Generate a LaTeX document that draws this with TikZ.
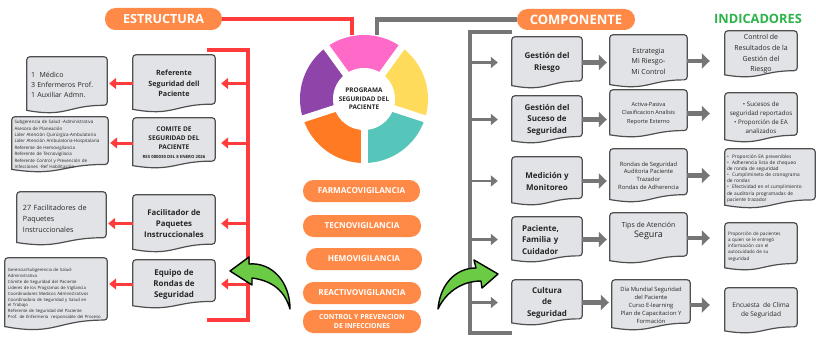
\documentclass[tikz,border=0pt]{standalone}
\usepackage{fontspec}
\setmainfont{Open Sans}
\usetikzlibrary{arrows.meta,calc}
\pgfdeclarelayer{bg}
\pgfsetlayers{bg,main}

\definecolor{redc}{HTML}{FF3B3B}
\definecolor{grayc}{HTML}{767676}
\definecolor{pillor}{HTML}{FF8A47}
\definecolor{docfill}{HTML}{E1E3E6}
\definecolor{docborder}{HTML}{4F4F4F}
\definecolor{txt}{HTML}{262626}
\definecolor{indgreen}{HTML}{2CB34A}
\definecolor{arrowgreen}{HTML}{6CCB45}
\definecolor{ringpink}{HTML}{FF69C8}
\definecolor{ringyellow}{HTML}{FFDB5C}
\definecolor{ringteal}{HTML}{56C5BA}
\definecolor{ringorange}{HTML}{FF7A22}
\definecolor{ringpurple}{HTML}{8E44A8}

\tikzset{
  fs/.style 2 args={font=\fontsize{#1}{#2}\selectfont},
  bfs/.style 2 args={font=\bfseries\fontsize{#1}{#2}\selectfont},
  docn/.style={inner sep=1pt, align=center, text=txt},
  docline/.style={draw=docborder, fill=docfill, line width=1.2pt},
  pill/.style={fill=pillor, rounded corners=10.5pt, text=white, inner sep=0pt, align=center},
  redbar/.style={draw=redc, line width=4.5pt},
  redarrow/.style={draw=redc, line width=3pt, -{Triangle[length=7pt,width=11pt]}},
  graybar/.style={draw=grayc, line width=4.5pt},
  grayarrow/.style={draw=grayc, line width=2.6pt, -{Triangle[length=7pt,width=11pt]}},
  bigarrow/.style={draw=grayc, line width=4.5pt, -{Triangle[length=8pt,width=15pt]}},
  greenarrow/.style={fill=arrowgreen, draw=black, line width=1.4pt, line join=round},
}

% document-style box: [options]{name}{x1}{y1}{x2}{y2}{text}
\newcommand\docbox[7][]{%
  \pgfmathsetmacro\dbcx{(#3+#5)/2}%
  \pgfmathsetmacro\dbcy{(#4+#6)/2}%
  \pgfmathsetmacro\dbw{#5-#3}%
  \pgfmathsetmacro\dbh{#6-#4}%
  \node[docn, minimum width=\dbw pt, minimum height=\dbh pt, #1] (#2) at (\dbcx,\dbcy) {#7};%
  \begin{pgfonlayer}{bg}%
    \filldraw[docline] ($(#2.north west)!0.95!(#2.south west)$)
      [rounded corners=3pt] -- (#2.north west) -- (#2.north east)
      -- ($(#2.north east)!0.86!(#2.south east)$)
      [sharp corners] .. controls ($(#2.north)!0.86!(#2.south)$) and ($(#2.north)!1.08!(#2.south)$) .. ($(#2.north west)!0.95!(#2.south west)$) -- cycle;%
  \end{pgfonlayer}%
}

\begin{document}
\begin{tikzpicture}[x=1pt, y=-1pt]
\useasboundingbox (0,0) rectangle (816,345);
\begin{pgfonlayer}{bg}
  \fill[white] (0,0) rectangle (816,345);
\end{pgfonlayer}

% ---------- headers ----------
\node[pill, bfs={12.6}{14}, minimum width=117pt, minimum height=22pt] (est) at (163.5,19) {ESTRUCTURA};
\node[pill, bfs={13}{14}, minimum width=118pt, minimum height=21pt] (comp) at (576,19.5) {COMPONENTE};
\node[bfs={12.8}{14}, text=indgreen] (indic) at (758,19) {INDICADORES};

% ---------- central ring ----------
\begin{scope}[shift={(364,99)}, y=1pt]
  \fill[ringpink]   (0,0) -- (54:64)  arc[start angle=54,  end angle=126, radius=64] -- cycle;
  \fill[ringpurple] (0,0) -- (126:64) arc[start angle=126, end angle=198, radius=64] -- cycle;
  \fill[ringorange] (0,0) -- (198:64) arc[start angle=198, end angle=270, radius=64] -- cycle;
  \fill[ringteal]   (0,0) -- (270:64) arc[start angle=270, end angle=342, radius=64] -- cycle;
  \fill[ringyellow] (0,0) -- (342:64) arc[start angle=342, end angle=414, radius=64] -- cycle;
  \foreach \a in {54,126,198,270,342} \draw[white, line width=7pt] (0,0) -- (\a:70);
  \fill[white] (0,0) circle[radius=31];
\end{scope}
\node[circle, minimum size=128pt, inner sep=0pt, align=center, bfs={6.4}{8.6}, text=txt] (ring) at (364,99) {PROGRAMA\\SEGURIDAD DEL\\PACIENTE};

\draw[redbar] (est.east) -| ($(ring.north)+(-12,0)$);
\draw[graybar] ($(ring.north)+(13,0)$) |- (comp.west);

% ---------- vigilance programmes ----------
\node[pill, bfs={8.2}{9}, minimum width=117pt, minimum height=22pt] (p1) at (361.5,191) {FARMACOVIGILANCIA};
\node[pill, bfs={8.2}{9}, minimum width=118pt, minimum height=22pt] (p2) at (362,226) {TECNOVIGILANCIA};
\node[pill, bfs={8.2}{9}, minimum width=116pt, minimum height=22pt] (p3) at (364,259) {HEMOVIGILANCIA};
\node[pill, bfs={8.2}{9}, minimum width=118pt, minimum height=22pt] (p4) at (362,293) {REACTIVOVIGILANCIA};
\node[pill, bfs={6.9}{8.4}, minimum width=118pt, minimum height=23pt] (p5) at (362,321.5) {CONTROL Y PREVENCION\\DE INFECCIONES};

% ---------- structure ----------
\docbox[bfs={7.2}{10.5}]{L1}{133}{55}{215}{112}{Referente\\Seguridad dell\\Paciente}
\docbox[bfs={6.5}{9}]{L2}{133}{118}{215}{168}{COMITE DE\\SEGURIDAD DEL\\PACIENTE\\{\fontsize{4.3}{6}\selectfont RES 000030 DEL 8 ENERO 2026}}
\docbox[bfs={7.8}{11}]{L3}{133}{195}{215}{252}{Facilitador de\\Paquetes\\Instruccionales}
\docbox[bfs={8}{11}]{L4}{133}{260}{215}{308}{Equipo de\\Rondas de\\Seguridad}

\docbox[fs={7}{10}, align=left, text width=72pt]{A1}{27}{57}{107}{113}{1~~Médico\\3 Enfermeros Prof.\\1 Auxiliar Admn.}
\docbox[fs={4.5}{6.4}, align=left, text width=91pt]{A2}{12}{117}{108}{172}{Subgerencia de Salud -Administrativa\\Asesora de Planeación\\Lider Atención Quirúrgica-Ambulatoria\\Lider Atención Ambulatoria-Hospitalaria\\Referente de Hemovigilancia\\Referente de Tecnovigilacia\\Referente Control y Prevención de\\Infecciones -Ref Habilitación}
\docbox[fs={7.2}{11}, align=left, text width=77pt]{A3}{17}{192}{106}{245}{27 Facilitadores de\\Paquetes\\Instruccionales}
\docbox[fs={4.3}{5.9}, align=left, text width=96pt]{A4}{5}{258}{107}{330}{Gerencia/Subgerencia de Salud-\\Administrativa\\Cómite de Seguridad del Paciente\\Lideres de los Programas de Vigilancia\\Coordinadores Medicos Administrativos\\Coordinadora de Seguridad y Salud en\\el Trabajo\\Referente de Seguridad del Paciente\\Prof. de Enfermeria~~responsable del Proceso\\[4pt]}

\coordinate (rt) at (207,50);
\coordinate (rtr) at (248,50);
\coordinate (rbr) at (248,320);
\coordinate (rb) at (207,320);
\draw[redbar] (rt) -- (rtr) -- (rbr) -- (rb);
\foreach \n in {L1,L2,L3,L4}
  \draw[redarrow] (\n.east -| rtr) -- ([xshift=6pt]\n.east);
\foreach \n/\m in {L1/A1,L2/A2,L3/A3,L4/A4}
  \draw[redarrow, shorten >=2pt] (\n.west) -- (\n.west -| \m.east);

% ---------- components ----------
\docbox[bfs={8}{12}]{R1}{512}{37}{582}{88}{Gestión del\\Riesgo}
\docbox[bfs={8}{11.5}]{R2}{512}{96}{582}{143}{Gestión del\\Suceso de\\Seguridad}
\docbox[bfs={8}{12}]{R3}{512}{157}{582}{205}{Medición y\\Monitoreo}
\docbox[bfs={8}{11.5}, align=left, text width=50pt]{R4}{512}{217}{582}{262}{Paciente,\\Familia y\\Cuidador}
\docbox[bfs={8}{11.5}]{R5}{512}{280}{582}{325}{Cultura\\de\\Seguridad}

\docbox[fs={7}{10.5}]{M1}{610}{35}{687}{87}{Estrategia\\Mi Riesgo-\\Mi Control}
\docbox[fs={5.6}{8.4}]{M2}{610}{90}{687}{137}{Activa-Pasiva\\Clasificacion Analisis\\Reporte Externo}
\docbox[fs={5.8}{7.6}]{M3}{610}{149}{687}{202}{Rondas de Seguridad\\Auditoria Paciente\\Trazador\\Rondas de Adherencia}
\docbox[fs={7}{10}]{M4}{610}{213}{687}{263}{Tips de Atención\\{\fontsize{9}{11}\selectfont Segura}\\[6pt]}
\docbox[fs={5.8}{8}]{M5}{612}{280}{690}{330}{Día Mundial Seguridad\\del Paciente\\Curso E-learning\\Plan de Capacitacion Y\\Formación}

\docbox[fs={7}{10.6}]{I1}{725}{31}{797}{77}{Control de\\Resultados de la\\Gestión del\\Riesgo}
\docbox[fs={6.2}{9}]{I2}{725}{93}{797}{142}{• Sucesos de\\seguridad reportados\\• Proporción de EA\\analizados}
\docbox[fs={4.8}{6.1}, align=left, text width=86pt]{I3}{725}{149}{815}{208}{• ~Proporción EA prevenibles\\• ~Adherencia lista de chequeo\\de ronda de seguridad\\• ~Cumplimineto de cronograma\\de rondas\\• ~Efectividad en el cumplimiento\\de auditoria programadas de\\paciente trazador}
\docbox[fs={4.6}{6.2}, align=left, text width=66pt]{I4}{725}{223}{797}{270}{Proporción de pacientes\\a quien se le entregó\\información con el\\autocuidado de su\\seguridad\\[3pt]}
\docbox[fs={6.5}{9.5}]{I5}{725}{288}{797}{333}{Encuesta~~de Clima\\de Seguridad}

\coordinate (gt) at (512,32);
\coordinate (gtl) at (470,32);
\coordinate (gbl) at (470,333);
\coordinate (gb) at (512,333);
\draw[graybar] (gt) -- (gtl) -- (gbl) -- (gb);
\foreach \n in {R1,R2,R3,R4,R5}
  \draw[grayarrow] (\n.west -| gtl) -- ([xshift=-14pt]\n.west);

\foreach \a/\b in {R1/M1,R2/M2,R3/M3,R4/M4,R5/M5}
  \draw[bigarrow] (\a.east) -- ([xshift=-3pt]\a.east -| \b.west);
\foreach \a/\b in {M1/I1,M2/I2,M3/I3,M4/I4,M5/I5}
  \draw[bigarrow] (\a.east) -- ([xshift=-15pt]\a.east -| \b.west);

% ---------- curved green arrows ----------
\filldraw[greenarrow] (230,271) -- (249,257) -- (249,264)
  .. controls (272,262) and (290,282) .. (290,309)
  .. controls (285,292) and (274,281) .. (252,278) -- (252,285) -- cycle;
\filldraw[greenarrow] (498,274) -- (482,288) -- (481,281)
  .. controls (462,281) and (446,292) .. (438,309)
  .. controls (440,285) and (455,268) .. (476,268) -- (474,260) -- cycle;

\end{tikzpicture}
\end{document}
